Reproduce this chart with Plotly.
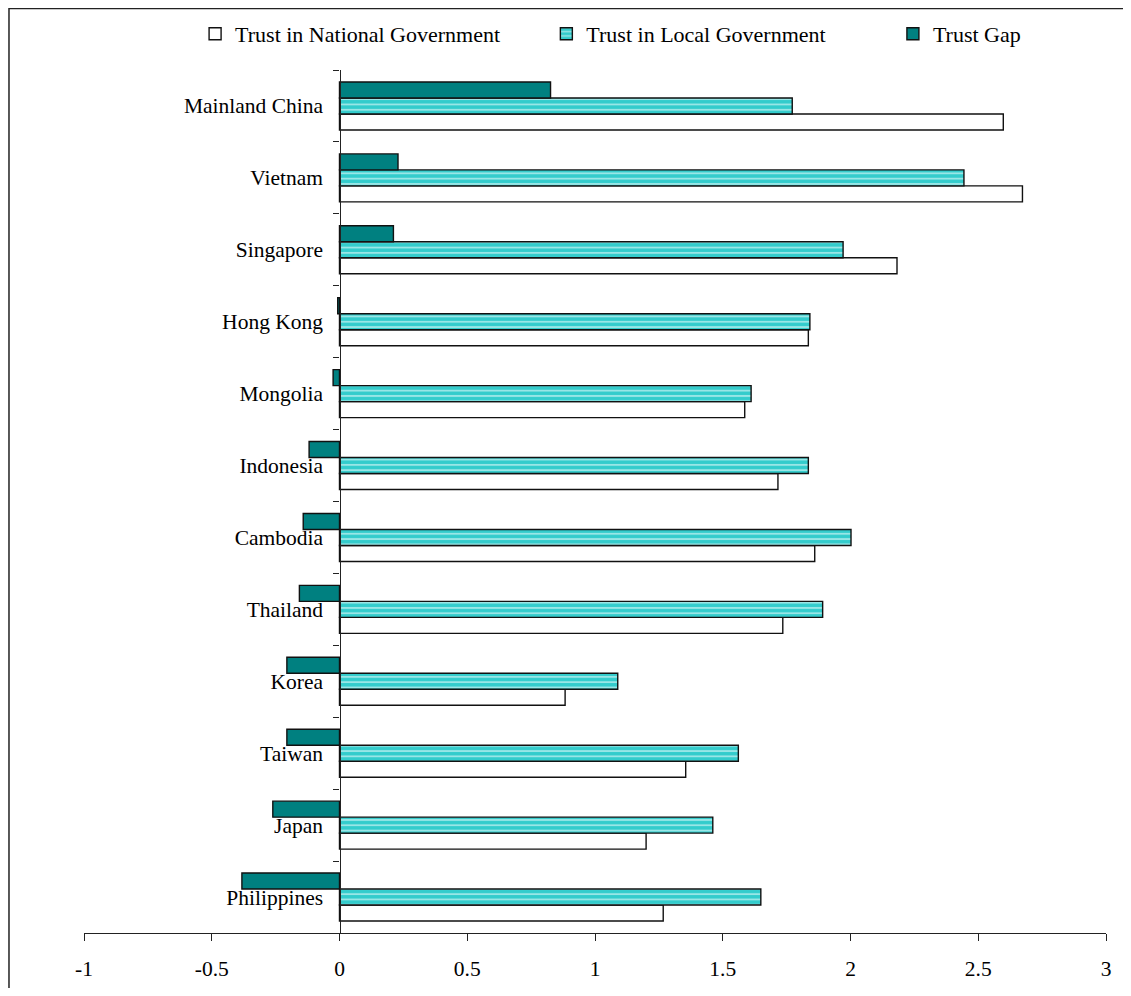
import plotly.graph_objects as go

# Categories listed top-to-bottom as in the chart
countries = ["Mainland China", "Vietnam", "Singapore", "Hong Kong", "Mongolia",
             "Indonesia", "Cambodia", "Thailand", "Korea", "Taiwan", "Japan",
             "Philippines"]
trust_national = [2.598, 2.673, 2.182, 1.835, 1.586, 1.716, 1.860, 1.735,
                  0.883, 1.355, 1.200, 1.267]
trust_local = [1.772, 2.444, 1.971, 1.841, 1.611, 1.835, 2.002, 1.891,
               1.089, 1.561, 1.461, 1.649]
trust_gap = [0.826, 0.229, 0.211, -0.007, -0.025, -0.119, -0.142, -0.157,
             -0.206, -0.206, -0.261, -0.382]

x_tickvals = [-1, -0.5, 0, 0.5, 1, 1.5, 2, 2.5, 3]
x_ticktext = ["-1", "-0.5", "0", "0.5", "1", "1.5", "2", "2.5", "3"]

FONT = "Liberation Serif, Times New Roman, serif"
OUTLINE = dict(color="#111111", width=1.4)

fig = go.Figure()
fig.add_trace(go.Bar(
    name="Trust in National Government", y=countries, x=trust_national,
    orientation="h", legend="legend",
    marker=dict(color="white", line=OUTLINE)))
fig.add_trace(go.Bar(
    name="Trust in Local Government", y=countries, x=trust_local,
    orientation="h", legend="legend2",
    marker=dict(color="#33CCCC", line=OUTLINE,
                pattern=dict(shape="-", fgcolor="white", size=5.3,
                             solidity=0.35, fillmode="overlay"))))
fig.add_trace(go.Bar(
    name="Trust Gap", y=countries, x=trust_gap,
    orientation="h", legend="legend3",
    marker=dict(color="#008080", line=OUTLINE)))

leg_common = dict(orientation="h", xanchor="left", y=1.0417, yanchor="middle",
                  font=dict(size=22), bgcolor="rgba(0,0,0,0)")

fig.update_layout(
    width=1115, height=980,
    margin=dict(l=76, r=17, t=62, b=55, autoexpand=False),
    paper_bgcolor="white", plot_bgcolor="white",
    font=dict(family=FONT, size=21.5, color="black"),
    barmode="group", bargap=0.333, bargroupgap=0,
    showlegend=True,
    legend=dict(x=0.1087, **leg_common),
    legend2=dict(x=0.4524, **leg_common),
    legend3=dict(x=0.7915, **leg_common),
    xaxis=dict(range=[-1, 3], tickvals=x_tickvals, ticktext=x_ticktext,
               automargin=False,
               showgrid=False, zeroline=False, showline=True,
               linecolor="#222222", linewidth=1.3,
               ticks="outside", ticklen=7, tickcolor="#222222", tickwidth=1.3,
               ticklabelstandoff=9, fixedrange=True),
    yaxis=dict(categoryorder="array", categoryarray=countries[::-1],
               anchor="free", position=0.25, automargin=False,
               showgrid=False, zeroline=False, showline=True,
               linecolor="#222222", linewidth=1.3,
               ticks="outside", ticklen=6, tickcolor="#222222", tickwidth=1.3,
               tickson="boundaries", ticklabelstandoff=12, fixedrange=True),
    shapes=[dict(type="rect", xref="paper", yref="paper",
                 x0=-0.0734, x1=1.08, y0=-0.12, y1=1.0713,
                 line=dict(color="#222222", width=1.5),
                 fillcolor="rgba(0,0,0,0)", layer="below")],
)

fig.write_html("out.html")
